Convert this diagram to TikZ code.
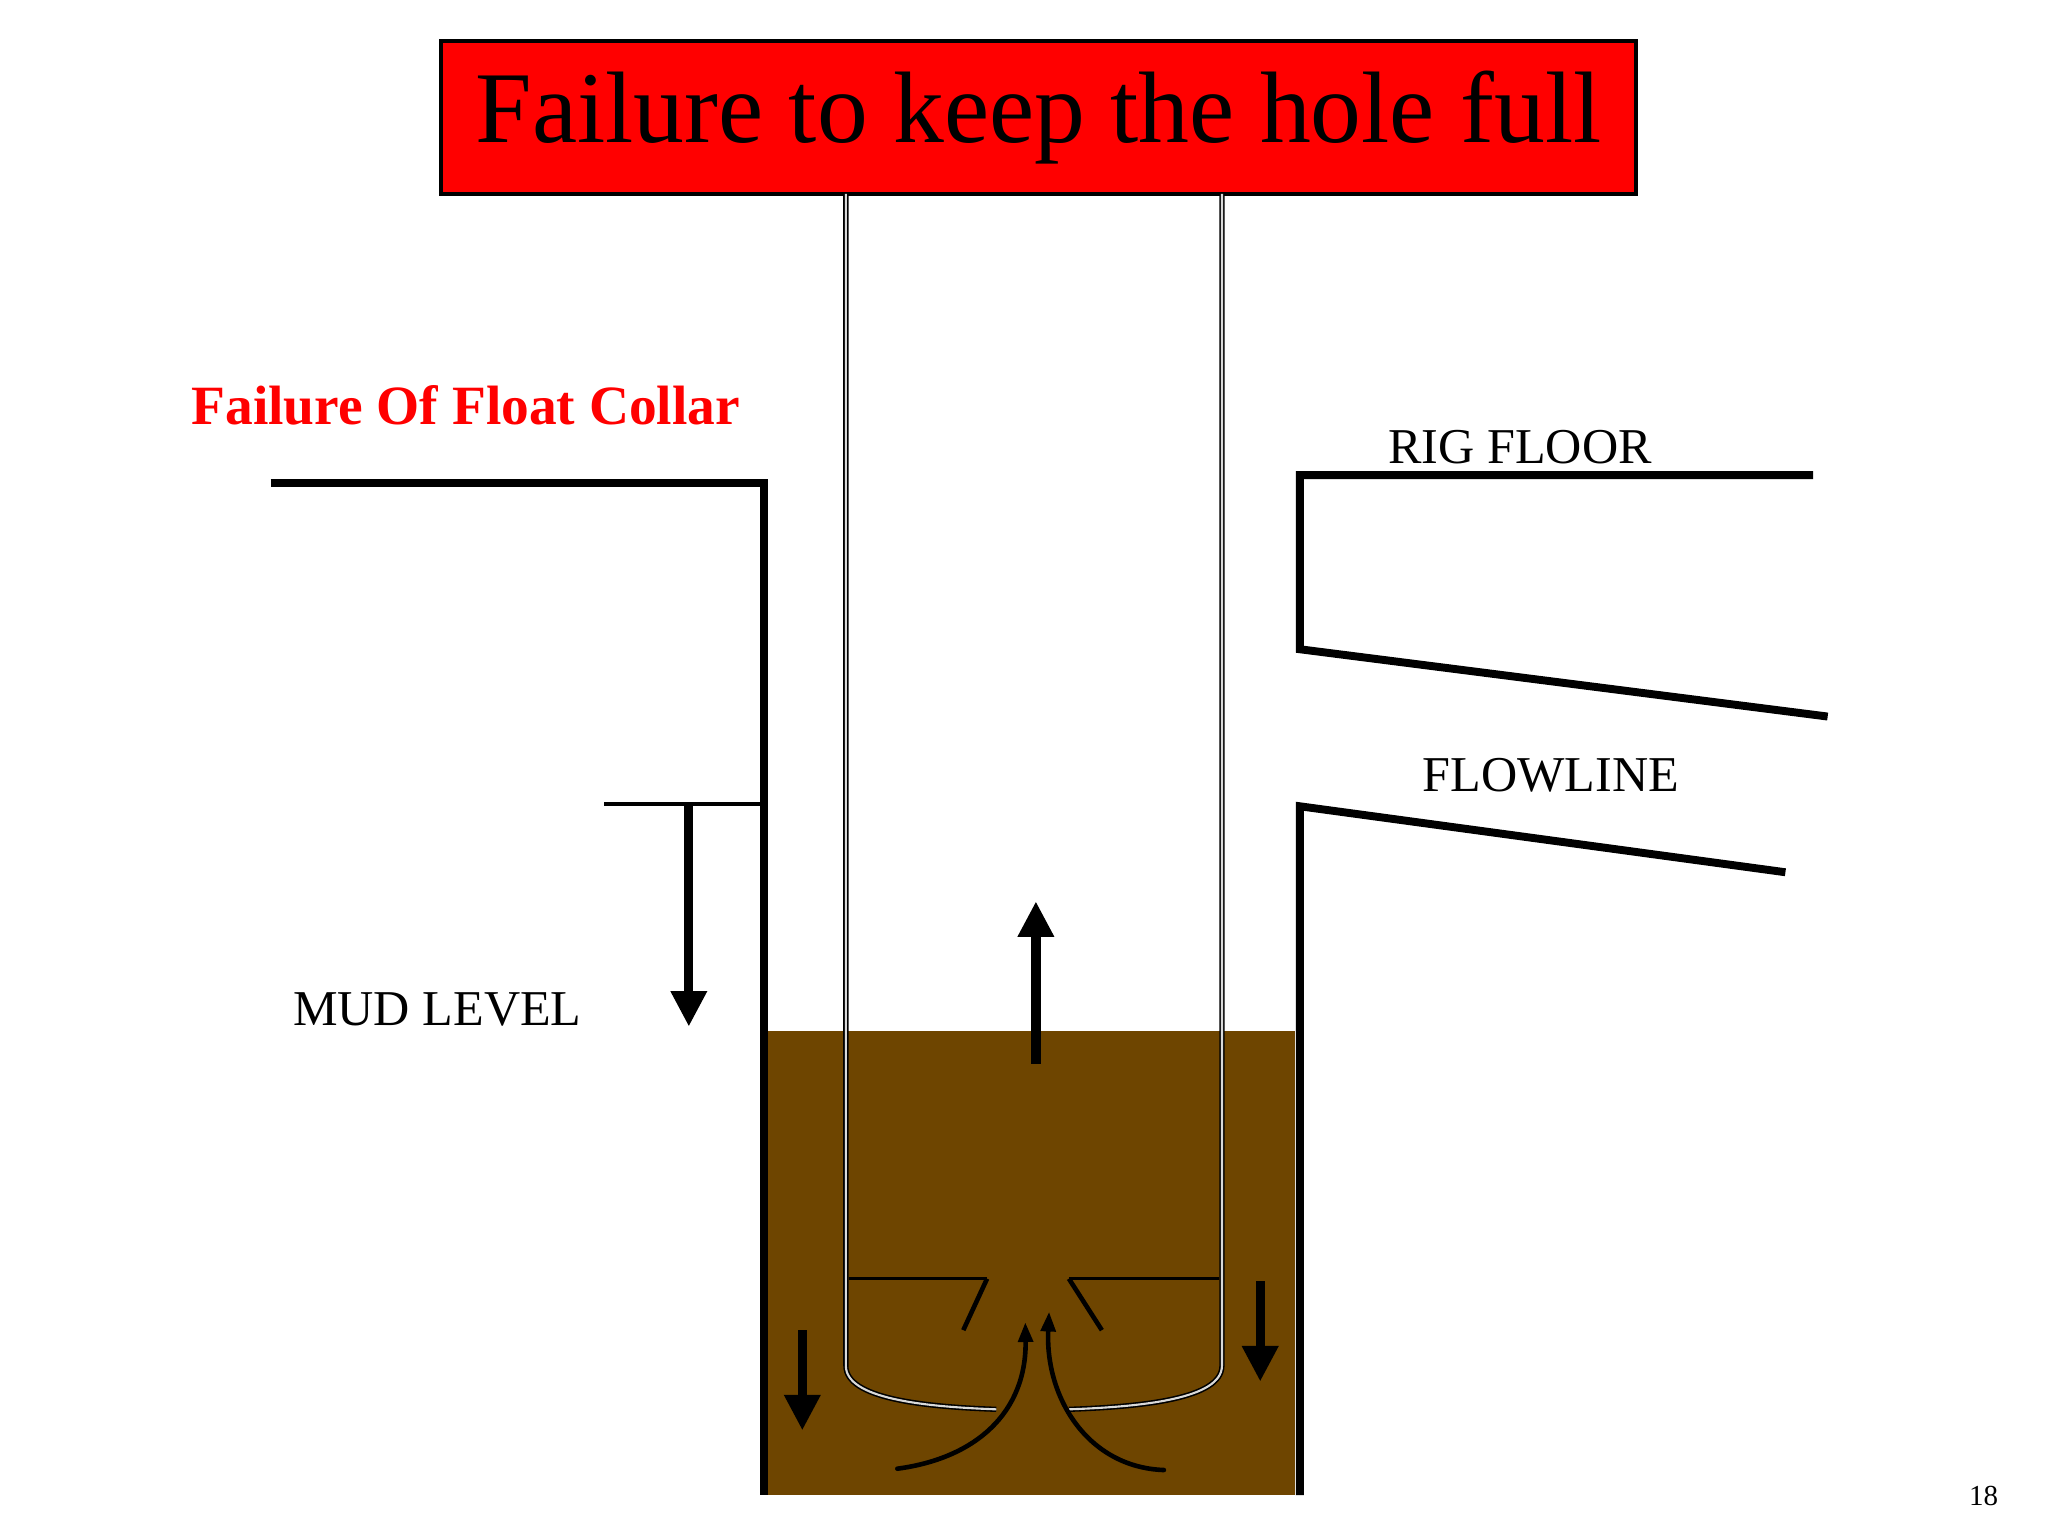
\documentclass[tikz,border=0pt]{standalone}
\usepackage{fontspec}
\setmainfont{Liberation Serif}
\usetikzlibrary{arrows.meta,positioning}
\definecolor{mud}{HTML}{6E4500}
\definecolor{titlered}{HTML}{FF0000}
\begin{document}
\begin{tikzpicture}[x=1pt,y=1pt,yscale=-1,
  wall/.style={line width=6pt,line join=miter},
  pipe/.style={double=white!85!black,double distance=1.6pt,line width=1.2pt},
  flow/.style={line width=7pt,-{Triangle[width=26pt,length=27pt]}},
  swirl/.style={line width=3.5pt,line cap=round,-{Triangle[width=11pt,length=15pt]}},
  lbl/.style={font=\fontsize{38}{40}\selectfont,anchor=base west,inner sep=0pt}]
\useasboundingbox (0,0) rectangle (1552,1164);

% mud in the hole
\fill[mud] (582,781) rectangle (981,1133);

% title
\node[draw=black,line width=3pt,fill=titlered,minimum width=906pt,minimum height=116pt,inner sep=0pt,
  font=\fontsize{77}{80}\selectfont] (title) at (787,89) {Failure to keep the hole full};

% walls
\draw[wall] (205,366) -- (579,366) -- (579,1133);
\draw[wall] (1374,360) -- (985,360) -- (985,492) -- (1385,543);
\draw[wall] (1353,661) -- (985,611) -- (985,1133);

% drill pipe
\draw[pipe] (641,147) -- (641,1035) .. controls (641,1060) and (700,1066) .. (755,1068);
\draw[pipe] (926,147) -- (926,1035) .. controls (926,1060) and (866,1066) .. (810,1068);

% float collar
\draw[line width=2pt] (643,969) -- (748,969);
\draw[line width=2pt] (810,969) -- (924,969);
\draw[line width=3.5pt] (748,969) -- (730,1008);
\draw[line width=3.5pt] (810,969) -- (835,1008);
\draw[swirl] (680,1113) .. controls (740,1105) and (778,1070) .. (777,1002);
\draw[swirl] (882,1114) .. controls (825,1112) and (792,1060) .. (795,994);

% mud level
\draw[line width=3pt] (458,609) -- (579,609);
\coordinate (mlTop) at (522,609);
\coordinate (mlBot) at (522,778);
\draw[flow] (mlTop) -- (mlBot);
\node[lbl] (mudlevel) at (222,777) {MUD LEVEL};

% flow arrows
\coordinate (upA) at (785,806);
\coordinate (upB) at (785,683);
\draw[flow] (upA) -- (upB);
\coordinate (dlA) at (608,1008);
\coordinate (dlB) at (608,1084);
\draw[flow] (dlA) -- (dlB);
\coordinate (drA) at (955,971);
\coordinate (drB) at (955,1047);
\draw[flow] (drA) -- (drB);

% labels
\node[lbl,text=titlered,font=\fontsize{42}{44}\selectfont\bfseries] (cause) at (145,322) {Failure Of Float Collar};
\node[lbl] (rigfloor) at (1052,351) {RIG FLOOR};
\node[lbl] (flowline) at (1078,600) {FLOWLINE};
\node[lbl,font=\fontsize{22}{24}\selectfont] (page) at (1492,1141) {18};
\end{tikzpicture}
\end{document}
